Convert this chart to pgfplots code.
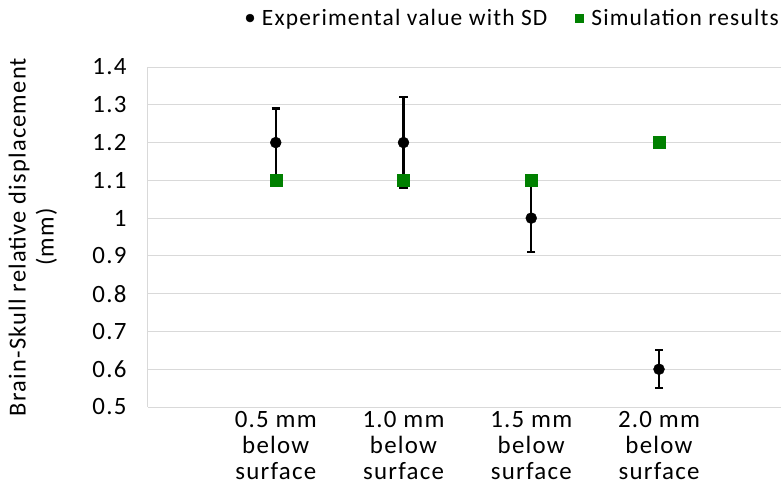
\documentclass[border=0pt]{standalone}
\usepackage{pgfplots}
\pgfplotsset{compat=1.18}
\usepackage{fontspec}
\setmainfont{Carlito}[LetterSpace=5]
\definecolor{simgreen}{RGB}{0,128,0}
\definecolor{gridgray}{RGB}{217,217,217}
\begin{document}
\begin{tikzpicture}
\path[use as bounding box] (-148bp,-79bp) rectangle (633bp,407bp);
\begin{axis}[
  at={(0,0)}, anchor=south west,
  scale only axis, width=633bp, height=340bp,
  xmin=0, xmax=4.955, ymin=0.5, ymax=1.4,
  ytick={0.5,0.6,0.7,0.8,0.9,1.0,1.1,1.2,1.3,1.4},
  xtick={1,2,3,4},
  xticklabels={{0.5 mm\\below\\surface},{1.0 mm\\below\\surface},{1.5 mm\\below\\surface},{2.0 mm\\below\\surface}},
  x tick label style={align=center, font=\fontsize{25}{26}\selectfont, yshift=-1bp},
  y tick label style={font=\fontsize{25}{26}\selectfont, xshift=-18bp},
  /pgf/number format/assume math mode=true,
  /pgf/number format/fixed,
  /pgf/number format/precision=1,
  major tick length=0pt,
  ymajorgrids, grid style={gridgray, line width=1bp},
  axis lines=left, axis line style={-, draw=gridgray, line width=1bp},
  every axis y label/.style={at={(axis description cs:-0.182,0.5)}, rotate=90, anchor=center, align=center, font=\fontsize{24.5}{28}\selectfont},
  ylabel={Brain-Skull relative displacement\\(mm)},
  legend columns=2,
  legend style={at={(axis description cs:1,1.144)}, anchor=east, draw=none, inner sep=0pt, font=\fontsize{23.5}{26}\selectfont,
    /tikz/every odd column/.append style={column sep=6bp},
    /tikz/every even column/.append style={column sep=26bp}},
  legend image code/.code={\draw[#1, mark size=4bp] plot coordinates {(0cm,0cm)};},
  every error bar/.append style={line width=2.3bp},
  clip=false,
]
\addplot[only marks, mark=*, mark size=5.5bp, black,
  error bars/.cd, y dir=both, y explicit,
  error bar style={line width=2.3bp, black},
  error mark options={rotate=90, mark size=4bp, line width=2.3bp, black}]
  coordinates {(1,1.2) +- (0,0.09) (2,1.2) +- (0,0.12) (3,1.0) +- (0,0.09) (4,0.6) +- (0,0.05)};
\addlegendentry{Experimental value with SD}
\addplot[only marks, mark=square*, mark size=6bp, simgreen, mark options={draw=simgreen, fill=simgreen}]
  coordinates {(1,1.1) (2,1.1) (3,1.1) (4,1.2)};
\addlegendentry{Simulation results}
\end{axis}
\end{tikzpicture}
\end{document}
